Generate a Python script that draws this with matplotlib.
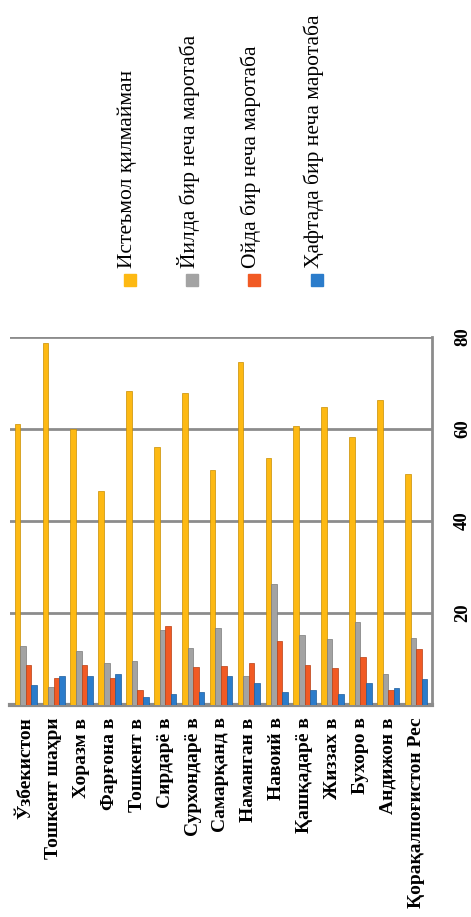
import matplotlib.pyplot as plt
import numpy as np
from matplotlib.patches import Rectangle

regions = ['Ўзбекистон', 'Тошкент шаҳри', 'Хоразм в', 'Фарғона в', 'Тошкент в',
           'Сирдарё в', 'Сурхондарё в', 'Самарқанд в', 'Наманган в', 'Навоий в',
           'Қашқадарё в', 'Жиззах в', 'Бухоро в', 'Андижон в', 'Қорақалпоғистон Рес']

never = [61.0, 78.7, 59.9, 46.6, 68.3, 56.0, 67.8, 51.0, 74.5, 53.8, 60.7, 64.7, 58.2, 66.3, 50.3]
yearly = [12.9, 4.0, 11.8, 9.1, 9.6, 16.3, 12.3, 16.8, 6.4, 26.3, 15.2, 14.4, 18.0, 6.8, 14.6]
monthly = [8.8, 5.8, 8.8, 5.8, 3.3, 17.2, 8.3, 8.5, 9.2, 14.0, 8.8, 8.1, 10.4, 3.3, 12.1]
weekly = [4.3, 6.4, 6.4, 6.7, 1.8, 2.4, 2.8, 6.4, 4.7, 2.9, 3.3, 2.5, 4.7, 3.8, 5.6]

series_names = ['Истеъмол қилмайман', 'Йилда бир неча маротаба',
                'Ойда бир неча маротаба', 'Ҳафтада бир неча маротаба']
colors = ['#FDB913', '#A3A3A3', '#F15A24', '#2B7CCB']
edges = ['#C98E00', '#7A7A7A', '#B83E12', '#1D5C9C']

W, H = 471, 917
fig = plt.figure(figsize=(W / 100, H / 100), dpi=100)
ax = fig.add_axes([10 / W, 1 - 705 / H, 422 / W, 368 / H])

x = np.arange(len(regions))
bw = 0.2
for i, vals in enumerate([never, yearly, monthly, weekly]):
    ax.bar(x + (i - 1.5) * bw, vals, bw, color=colors[i], edgecolor=edges[i],
           linewidth=0.5, zorder=3)

ax.set_xlim(-0.57, len(regions) - 0.43)
ax.set_ylim(0, 80)
ax.set_yticks([20, 40, 60, 80])
ax.yaxis.tick_right()
ax.tick_params(axis='y', length=0, pad=16, labelrotation=90, labelsize=13.5)
for t in ax.get_yticklabels():
    t.set_fontfamily('Liberation Serif')
    t.set_fontweight('bold')
    t.set_va('center')
ax.grid(axis='y', color='#8C8C8C', linewidth=2, zorder=0)
ax.set_xticks(x)
ax.set_xticklabels(regions, rotation=90, fontsize=14, fontweight='bold',
                   family='Liberation Serif', va='top', ha='center')
ax.tick_params(axis='x', length=0, pad=9)
for s in ['top', 'left']:
    ax.spines[s].set_visible(False)
ax.spines['right'].set_color('#8C8C8C')
ax.spines['right'].set_linewidth(2)
ax.spines['bottom'].set_color('#8C8C8C')
ax.spines['bottom'].set_linewidth(3)

# legend, rotated like the rest of the chart
leg_x = [130, 192, 254, 317]
for i in range(4):
    fig.patches.append(Rectangle(((leg_x[i] - 6) / W, 1 - 286 / H), 12 / W, 12 / H,
                                 transform=fig.transFigure, color=colors[i]))
    fig.text((leg_x[i] - 3) / W, 1 - 268 / H, series_names[i], rotation=90,
             ha='center', va='bottom', fontsize=15.5, family='Liberation Serif')

fig.savefig('out.png', dpi=100)
